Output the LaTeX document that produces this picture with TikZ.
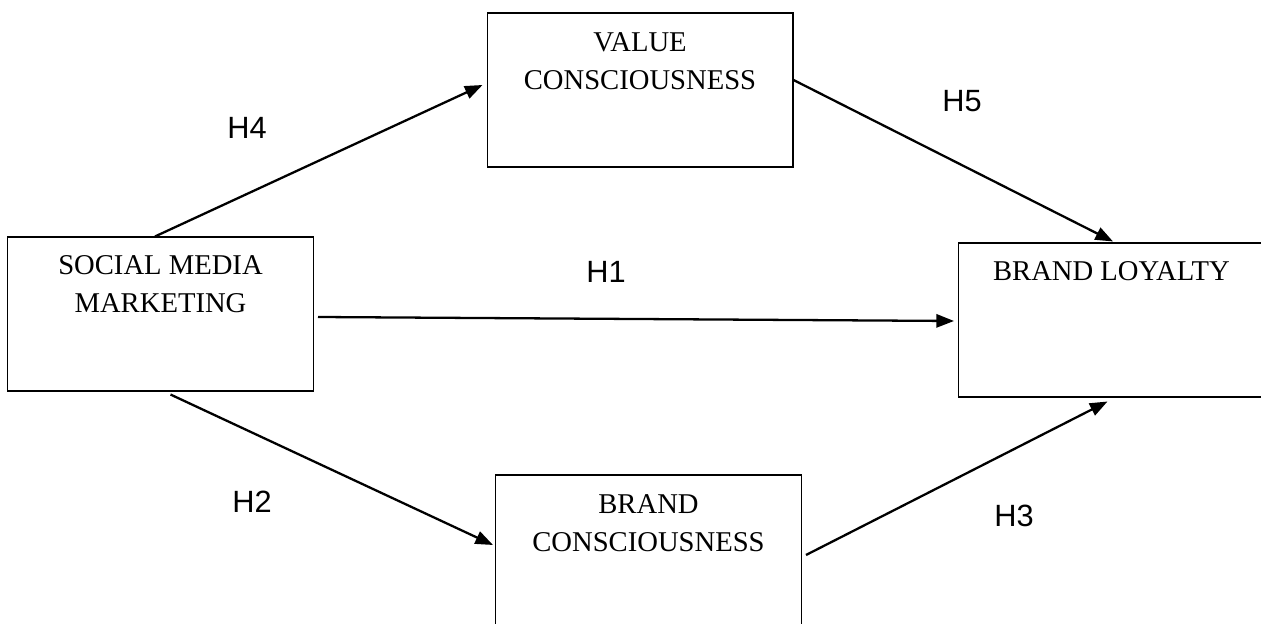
\documentclass[tikz,border=0pt]{standalone}
\usepackage{fontspec}
\setmainfont{Liberation Serif}
\newfontfamily\hypfont{Liberation Sans}
\usetikzlibrary{positioning, arrows.meta, calc}

\begin{document}
\begin{tikzpicture}[
    x=0.02cm, y=-0.02cm,
    varbox/.style={
        draw,
        line width=0.6pt,
        minimum width=6.12cm,
        minimum height=3.08cm,
        inner sep=0pt
    },
    vartext/.style={font=\fontsize{16.3}{21.6}\selectfont, align=center, inner sep=0pt},
    hyplbl/.style={font=\hypfont\fontsize{17.5}{21}\selectfont, inner sep=0pt},
    hyparrow/.style={-{Triangle[length=10pt, width=7.5pt]}, line width=1.3pt}
]
\clip (0,0) rectangle (1261,624);

% === Constructs ===
\node[varbox] (smm) at (160.5,314) {};
\node[vartext, below=0.37cm of smm.north] (smmtxt) {SOCIAL MEDIA\\MARKETING};

\node[varbox] (value) at (640,90) {};
\node[vartext, below=0.4cm of value.north] (valuetxt) {VALUE\\CONSCIOUSNESS};

\node[varbox] (loyalty) at (1111.5,320) {};
\node[vartext, below=0.38cm of loyalty.north] (loyaltytxt) {BRAND LOYALTY};

\node[varbox] (brand) at (648.5,552) {};
\node[vartext, below=0.4cm of brand.north] (brandtxt) {BRAND\\CONSCIOUSNESS};

% === Hypotheses ===
\draw[hyparrow] ($(smm.north)+(-5.5,0)$) -- ($(value.west)+(-4,-5)$);
\draw[hyparrow] ($(value.east)+(0,-10)$) -- ($(loyalty.north)+(1.5,-1)$);
\draw[hyparrow] ($(smm.east)+(4,3)$) -- ($(loyalty.west)+(-4,1)$);
\draw[hyparrow] ($(smm.south)+(10,3)$) -- ($(brand.west)+(-2,-7)$);
\draw[hyparrow] ($(brand.east)+(4,3)$) -- ($(loyalty.south)+(-4,4)$);

\node[hyplbl] (h4) at (247,128) {H4};
\node[hyplbl] (h5) at (962,101) {H5};
\node[hyplbl] (h1) at (606,272) {H1};
\node[hyplbl] (h2) at (252,502) {H2};
\node[hyplbl] (h3) at (1014,516) {H3};

\end{tikzpicture}
\end{document}
